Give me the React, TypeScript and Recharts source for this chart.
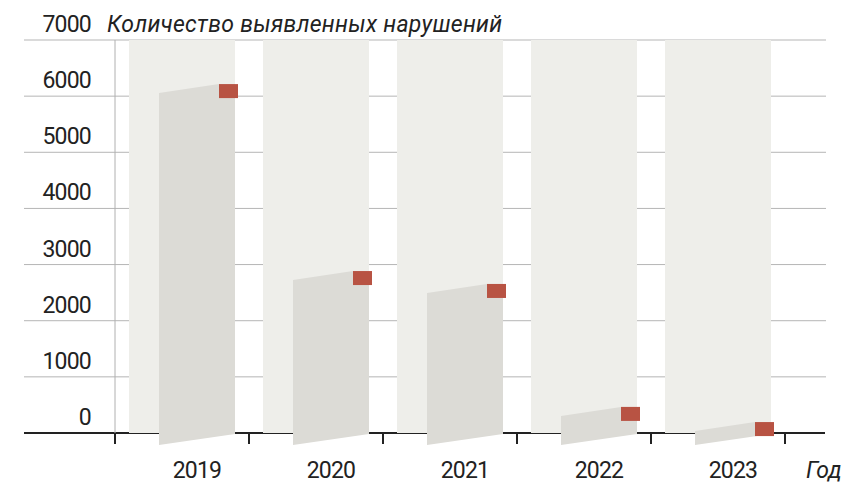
import React from "react";
import { ComposedChart, Bar, XAxis, YAxis, CartesianGrid } from "recharts";

// data
const years = ["2019", "2020", "2021", "2022", "2023"];
const violations = [6090, 2760, 2530, 340, 70];
const yTicks = [0, 1000, 2000, 3000, 4000, 5000, 6000, 7000];
const chartTitle = "Количество выявленных нарушений";
const xTitle = "Год";

const data = years.map((year, i) => ({ year, value: violations[i] }));

// layout
const W = 842;
const H = 484;
const margin = { top: 40, right: 57, left: 0, bottom: 0 };
const Y_AXIS_W = 115;
const X_AXIS_H = 51;
const PLOT_BOTTOM = H - margin.bottom - X_AXIS_H;
const PLOT_W = W - margin.left - margin.right - Y_AXIS_W;
const LINE_LEFT = 24;
const LINE_RIGHT = 826;

const FONT = "Roboto, 'DejaVu Sans', sans-serif";
const TEXT = "#222222";
const FS = 23;

const GridLine = (props: any) => {
  const { y1 } = props;
  const isBase = Math.abs(y1 - PLOT_BOTTOM) < 0.6;
  return (
    <line
      key={`g-${y1}`}
      x1={LINE_LEFT}
      x2={isBase ? LINE_RIGHT - 1 : LINE_RIGHT}
      y1={y1}
      y2={y1}
      stroke={isBase ? TEXT : "#b5b5b5"}
      strokeWidth={isBase ? 2 : 1}
    />
  );
};

const YTick = (props: any) => {
  const { y, payload } = props;
  const isTop = payload.value === yTicks[yTicks.length - 1];
  return (
    <g>
      <text x={91} y={y - 8} textAnchor="end" fontSize={FS} letterSpacing={-0.8} fill={TEXT} fontFamily={FONT}>
        {payload.value}
      </text>
      {isTop && (
        <text x={107} y={y - 8} fontSize={FS} letterSpacing={0.3} fill={TEXT} fontFamily={FONT} fontStyle="italic">
          {chartTitle}
        </text>
      )}
    </g>
  );
};

const XTick = (props: any) => {
  const { x, index, payload } = props;
  const band = PLOT_W / years.length;
  const left = x - band / 2;
  const isLast = index === years.length - 1;
  return (
    <g>
      <line x1={left} x2={left} y1={PLOT_BOTTOM} y2={PLOT_BOTTOM + 11} stroke={TEXT} strokeWidth={2} />
      {isLast && (
        <line x1={left + band} x2={left + band} y1={PLOT_BOTTOM} y2={PLOT_BOTTOM + 11} stroke={TEXT} strokeWidth={2} />
      )}
      <text x={x + 15} y={PLOT_BOTTOM + 45} textAnchor="middle" fontSize={FS} letterSpacing={-0.8} fill={TEXT} fontFamily={FONT}>
        {payload.value}
      </text>
      {isLast && (
        <text x={806} y={PLOT_BOTTOM + 45} fontSize={FS} fill={TEXT} fontFamily={FONT} fontStyle="italic">
          {xTitle}
        </text>
      )}
    </g>
  );
};

// skewed grey column with a red marker at the value
const MarkShape = (props: any) => {
  const { x, y, width, height } = props;
  const base = y + height;
  const L = x + 30;
  const R = x + width;
  const mx = R - 16;
  const pts = `${L},${y + 2} ${mx},${y - 7} ${R},${y - 7} ${R},${base + 1} ${L},${base + 12}`;
  return (
    <g>
      <polygon points={pts} fill="#dcdbd6" />
      <rect x={mx} y={y - 7} width={19} height={14} fill="#b85343" />
    </g>
  );
};

export default function App() {
  return (
    <div style={{ position: "absolute", left: 0, top: 0, width: W, height: H, background: "#fff" }}>
      <ComposedChart width={W} height={H} data={data} margin={margin} barCategoryGap={14}>
        <CartesianGrid vertical={false} horizontal={GridLine} />
        <XAxis
          dataKey="year"
          height={X_AXIS_H}
          axisLine={false}
          tickLine={false}
          interval={0}
          tick={<XTick />}
        />
        <YAxis
          domain={[0, 7000]}
          ticks={yTicks}
          width={Y_AXIS_W}
          interval={0}
          axisLine={{ stroke: "#b0b0b0", strokeWidth: 1 }}
          tickLine={false}
          tick={<YTick />}
        />
        <Bar
          dataKey="value"
          background={{ fill: "#eeeeea" }}
          shape={<MarkShape />}
          isAnimationActive={false}
        />
      </ComposedChart>
    </div>
  );
}
